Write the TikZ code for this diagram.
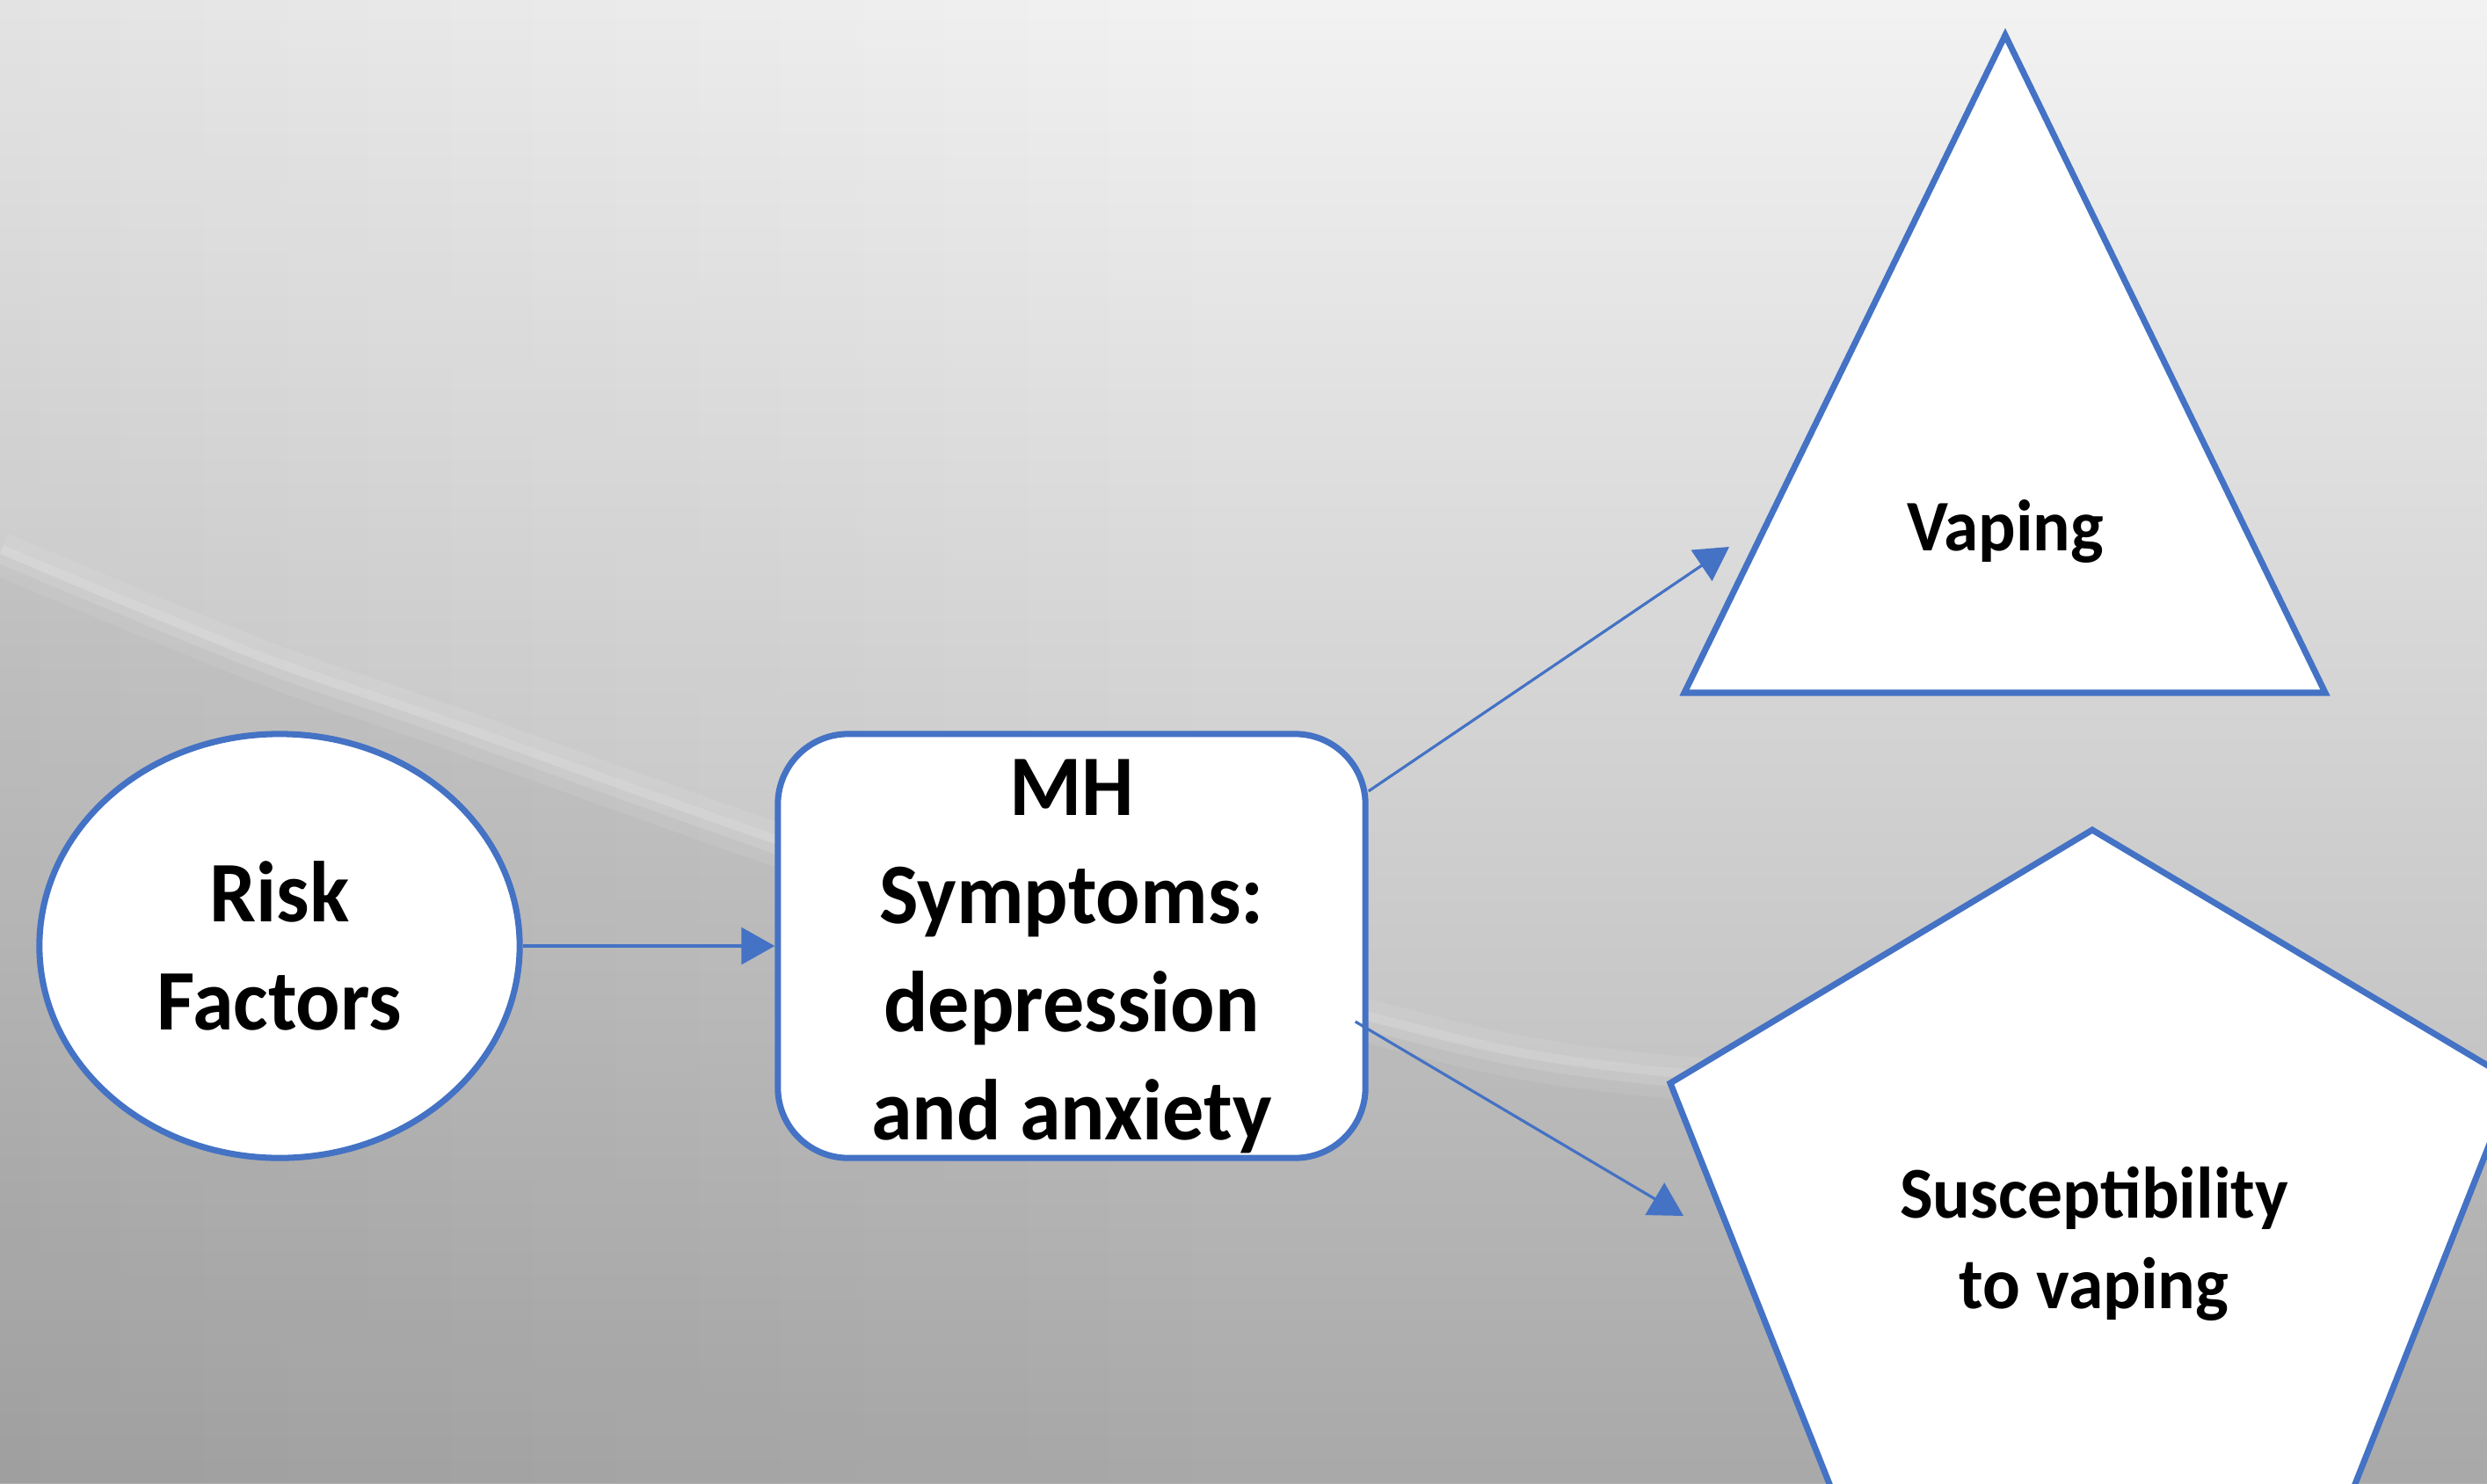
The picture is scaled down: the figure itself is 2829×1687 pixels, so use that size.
\documentclass[tikz,border=0pt]{standalone}
\usepackage{fontspec}
\setmainfont{Carlito}[FakeStretch=0.96]
\usetikzlibrary{arrows.meta,shapes.geometric,fadings}
\definecolor{offblue}{HTML}{4472C4}
\tikzset{
  shapeline/.style={draw=offblue, line width=2pt, fill=white},
  flow/.style={draw=offblue, line width=0.9pt, -{Triangle[length=0.38cm,width=0.42cm]}},
  bigtext/.style={font=\bfseries\fontsize{27.9}{35}\selectfont, align=center},
}
\begin{document}
\begin{tikzpicture}[x=0.01cm, y=-0.01cm]
  \useasboundingbox (0,0) rectangle (2829,1687);
  \clip (0,0) rectangle (2829,1687);
  % background
  \shade[top color=black!5, bottom color=black!30] (0,0) rectangle (2829,1687);
  \fill[black, opacity=0.06, path fading=east] (0,0) rectangle (1400,1687);
  \fill[black, opacity=0.05] plot[smooth] coordinates {(0,630) (290,750) (490,820) (1000,1000) (1550,1160) (1900,1225) (2829,1280)}
    -- (2829,1687) -- (0,1687) -- cycle;
  % streak
  \draw[white, opacity=0.08, line width=14pt] plot[smooth] coordinates {(0,630) (290,750) (490,820) (1000,1000) (1550,1160) (1900,1225) (2829,1280)};
  \draw[white, opacity=0.12, line width=6pt] plot[smooth] coordinates {(0,630) (290,750) (490,820) (1000,1000) (1550,1160) (1900,1225) (2829,1280)};

  % risk factors
  \node[shapeline, ellipse, minimum width=5.46cm, minimum height=4.82cm, inner sep=0pt, bigtext] (risk) at (318,1076) {Risk\\Factors};
  % MH box
  \node[shapeline, rounded corners=0.8cm, minimum width=6.68cm, minimum height=4.82cm, inner sep=0pt, bigtext] (mh) at (1219,1076)
    {\rule{0pt}{0.87cm}MH\\Symptoms:\\depression\\and anxiety};

  % triangle
  \draw[shapeline] (2281,40) -- (2645,788) -- (1916,788) -- cycle;
  \node[font=\bfseries\fontsize{23.5}{28}\selectfont, anchor=base] (vaping) at (2281,626) {Vaping};
  % pentagon
  \draw[shapeline] (2380,944) -- (2860,1230) -- (2677,1693) -- (2083,1693) -- (1900,1232) -- cycle;
  \node[font=\bfseries\fontsize{23.6}{29.3}\selectfont, align=center] (susc) at (2382,1415) {Susceptibility\\to vaping};

  % arrows
  \coordinate (vapetip) at (1967,622);
  \coordinate (susctip) at (1915,1383);
  \draw[flow] (risk.east) -- (mh.west);
  \draw[flow] ([yshift=1.76cm]mh.east) -- (vapetip);
  \draw[flow] ([xshift=-0.15cm,yshift=-0.86cm]mh.east) -- (susctip);
\end{tikzpicture}
\end{document}
